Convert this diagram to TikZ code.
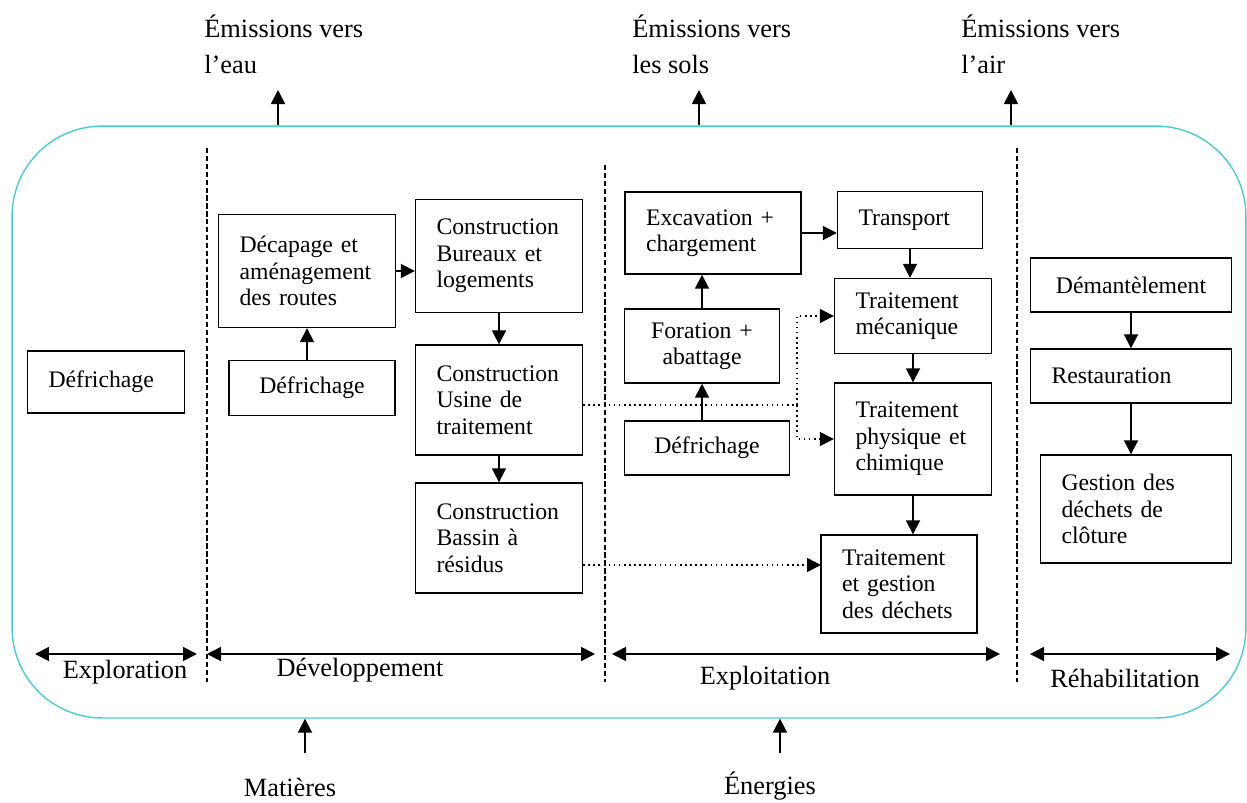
\documentclass[tikz,border=0pt]{standalone}
\usepackage{fontspec}
\setmainfont{Liberation Serif}
\usetikzlibrary{arrows.meta}
\definecolor{cyancadre}{RGB}{72,206,206}
\tikzset{>={Triangle[length = 0.28cm, width = 0.28cm]}}
\tikzset{
    etape/.style = {draw, line width = 0.8pt, inner xsep = 0.42cm, inner ysep = 0pt, font = \fontsize{13.5}{15}\selectfont},
    fleche/.style = {->, line width = 1pt},
    pointille/.style = {->, dotted, line width = 0.9pt},
    phase/.style = {<->, line width = 1pt},
    legende/.style = {inner sep = 0pt, align = left, font = \fontsize{15}{20.5}\selectfont},
    separation/.style = {dash pattern = on 3pt off 1.5pt, line width = 0.8pt},
    cadre/.style = {draw = cyancadre, line width = 0.8pt, rounded corners = 1.8cm, inner sep = 0pt}
}

\begin{document}
\begin{tikzpicture}[x = 0.02cm, y = -0.02cm]
    \useasboundingbox (0,0) rectangle (1247,802);
    \node [cadre, minimum width = 24.68cm, minimum height = 11.84cm] (cadre) at (629,422) {};

    % phases
	\foreach \x/\y in {207/148, 605/165, 1017/148}
	\draw [separation] (\x,\y) -- (\x,682);
	\foreach \a/\b/\n in {35/197/1, 207/595/2, 612/1000/3, 1030/1230/4} {
	    \coordinate (debut\n) at (\a,654);
	    \coordinate (fin\n) at (\b,654);
	    \draw [phase] (debut\n) -- (fin\n);
	}
	\node [legende] (exploration) at (125,672) {Exploration};
	\node [legende] (developpement) at (360,670) {Développement};
	\node [legende] (exploitation) at (765,678) {Exploitation};
	\node [legende] (rehabilitation) at (1125,678) {Réhabilitation};

    % emissions et entrees
	\node [legende, anchor = north west] (emiEau) at (204,15) {Émissions vers\\l’eau};
	\node [legende, anchor = north west] (emiSols) at (632,15) {Émissions vers\\les sols};
	\node [legende, anchor = north west] (emiAir) at (961,15) {Émissions vers\\l’air};
	\foreach \n/\x in {eau/278, sols/699, air/1011} {
	    \coordinate (haut\n) at (\x,90);
	    \draw [fleche] (cadre.north -| haut\n) -- (haut\n);
	}
	\node [legende] (matieres) at (290,787) {Matières};
	\node [legende] (energies) at (770,786) {Énergies};
	\foreach \n/\x in {mat/305, ene/780} {
	    \coordinate (bas\n) at (\x,753);
	    \draw [fleche] (bas\n) -- (bas\n |- cadre.south);
	}

    % exploration
	\node [etape, align = left, text width = 2.30cm, minimum height = 1.24cm] (defExplo) at (106,382) {Défrichage};

    % developpement
	\node [etape, align = left, text width = 2.70cm, minimum height = 2.26cm] (decapage) at (307,271) {Décapage et\\aménagement\\des routes};
	\node [etape, align = center, text width = 2.48cm, minimum height = 1.10cm] (defDev) at (312,388) {Défrichage};
	\node [etape, align = left, text width = 2.50cm, minimum height = 2.26cm] (bureaux) at (499,256) {Construction\\Bureaux et\\logements};
	\node [etape, align = left, text width = 2.50cm, minimum height = 2.20cm] (usine) at (499,400) {Construction\\Usine de\\traitement};
	\node [etape, align = left, text width = 2.50cm, minimum height = 2.20cm] (bassin) at (499,538) {Construction\\Bassin à\\résidus};
	\draw [fleche] (defDev.north -| decapage.south) -- (decapage.south);
	\draw [fleche] (decapage.east) -- (decapage.east -| bureaux.west);
	\draw [fleche] (bureaux) -- (usine);
	\draw [fleche] (usine) -- (bassin);

    % exploitation
	\node [etape, align = left, text width = 2.68cm, minimum height = 1.64cm] (excavation) at (713,233) {Excavation +\\chargement};
	\node [etape, align = left, text width = 2.06cm, minimum height = 1.14cm] (transport) at (910,220) {Transport};
	\node [etape, align = center, text width = 2.26cm, minimum height = 1.48cm] (foration) at (702,346) {Foration +\\abattage};
	\node [etape, align = center, text width = 2.46cm, minimum height = 1.08cm] (defExploit) at (707,448) {Défrichage};
	\node [etape, align = left, text width = 2.30cm, minimum height = 1.50cm] (mecanique) at (913,316) {Traitement\\mécanique};
	\node [etape, align = left, text width = 2.30cm, minimum height = 2.24cm] (physique) at (913,439) {Traitement\\physique et\\chimique};
	\node [etape, align = left, text width = 2.28cm, minimum height = 1.96cm] (dechets) at (899,584) {Traitement\\et gestion\\des déchets};
	\draw [fleche] (excavation.east) -- (excavation.east -| transport.west);
	\draw [fleche] (foration.north) -- (foration.north |- excavation.south);
	\draw [fleche] (defExploit.north -| foration.south) -- (foration.south);
	\draw [fleche] (transport.south) -- (transport.south |- mecanique.north);
	\draw [fleche] (mecanique) -- (physique);
	\draw [fleche] (physique.south) -- (physique.south |- dechets.north);

    % liens pointilles
	\coordinate (coude) at (797,405);
	\coordinate (entreeDechets) at (821,565);
	\draw [pointille] (usine.east |- coude) -- (coude) |- (mecanique.west);
	\draw [pointille] (coude) |- (physique.west);
	\draw [pointille] (bassin.east |- entreeDechets) -- (entreeDechets);

    % rehabilitation
	\node [etape, align = center, text width = 3.18cm, minimum height = 1.08cm] (demantelement) at (1131,285) {Démantèlement};
	\node [etape, align = left, text width = 3.18cm, minimum height = 1.08cm] (restauration) at (1131,376) {Restauration};
	\node [etape, align = left, text width = 2.98cm, minimum height = 2.16cm] (gestion) at (1136,509) {Gestion des\\déchets de\\clôture};
	\draw [fleche] (demantelement) -- (restauration);
	\draw [fleche] (restauration.south) -- (restauration.south |- gestion.north);
\end{tikzpicture}
\end{document}
